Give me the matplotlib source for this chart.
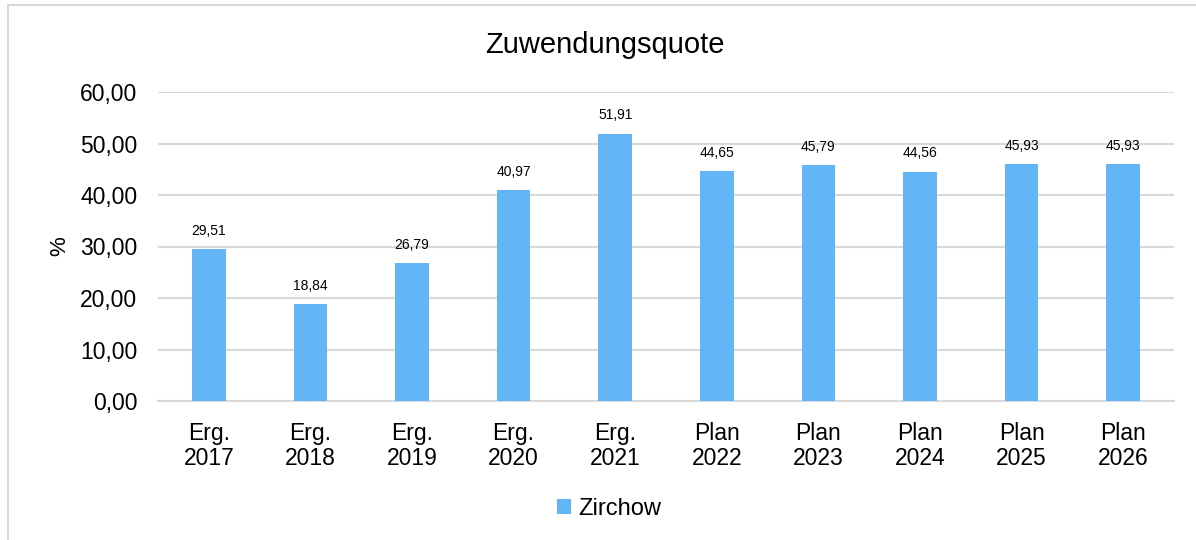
import matplotlib
matplotlib.use("Agg")
from matplotlib import pyplot as plt
from matplotlib.patches import Rectangle
import numpy as np

plt.rcParams['font.family'] = ['Liberation Sans', 'DejaVu Sans']

categories = ["Erg.\n2017", "Erg.\n2018", "Erg.\n2019", "Erg.\n2020", "Erg.\n2021",
              "Plan\n2022", "Plan\n2023", "Plan\n2024", "Plan\n2025", "Plan\n2026"]
values = [29.51, 18.84, 26.79, 40.97, 51.91, 44.65, 45.79, 44.56, 45.93, 45.93]
series_name = "Zirchow"
yticks = [0, 10, 20, 30, 40, 50, 60]

bar_color = "#64B5F6"
grid_color = "#D9D9D9"

fig = plt.figure(figsize=(11.96, 5.4), dpi=100)
ax = fig.add_axes([158 / 1196, 1 - 401 / 540, (1174 - 158) / 1196, (401 - 92) / 540])

# outer frame (only top and left visible in reference)
fig.patches.append(Rectangle((8 / 1196, -0.05), 1.2, 1 - 5 / 540 + 0.05,
                             transform=fig.transFigure, fill=False,
                             edgecolor=grid_color, linewidth=1.5))

x = np.arange(len(categories))
bars = ax.bar(x, values, width=0.33, color=bar_color, label=series_name, zorder=3)

for xi, v in zip(x, values):
    ax.text(xi, v + 2.2, f"{v:.2f}".replace(".", ","), ha="center", va="bottom",
            fontsize=10, color="#000000")

ax.set_xlim(-0.5, len(categories) - 0.5)
ax.set_ylim(0, 60)
ax.set_yticks(yticks)
ax.set_yticklabels([f"{t:.2f}".replace(".", ",") for t in yticks], fontsize=16.5)
ax.set_xticks(x)
ax.set_xticklabels(categories, fontsize=16.5, linespacing=1.1)
ax.tick_params(axis="x", length=0, pad=15)
ax.tick_params(axis="y", length=0, pad=15)
ax.yaxis.grid(True, color=grid_color, linewidth=1.5, zorder=0)
for side in ["top", "right", "left"]:
    ax.spines[side].set_visible(False)
ax.spines["bottom"].set_color(grid_color)
ax.spines["bottom"].set_linewidth(1.5)

ax.set_ylabel("%", fontsize=16, labelpad=7)
fig.text(605 / 1196, 1 - 45 / 540, "Zuwendungsquote", ha="center", va="center", fontsize=21)

fig.legend(loc="center", bbox_to_anchor=(609 / 1196, 1 - 509 / 540), frameon=False,
           fontsize=17, handlelength=0.6, handleheight=0.6, handletextpad=0.3)

plt.savefig("out.png", dpi=100, facecolor="white")
